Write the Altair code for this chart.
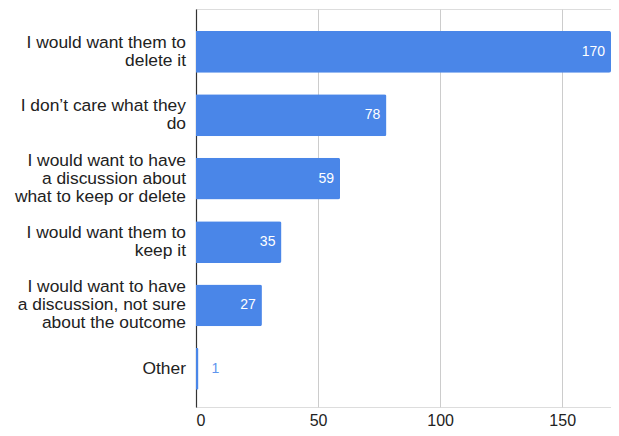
import altair as alt
import pandas as pd

categories = [
    "I would want them to\ndelete it",
    "I don\u2019t care what they\ndo",
    "I would want to have\na discussion about\nwhat to keep or delete",
    "I would want them to\nkeep it",
    "I would want to have\na discussion, not sure\nabout the outcome",
    "Other",
]
values = [170, 78, 59, 35, 27, 1]

df = pd.DataFrame({"category": categories, "value": values})

BLUE = "#4a86e8"
FONT = "Liberation Sans"
LINE_H = 18

y_scale = alt.Scale(paddingInner=0.34, paddingOuter=0.309, align=0.56)

y_enc = alt.Y(
    "category:N",
    sort=categories,
    title=None,
    scale=y_scale,
    axis=alt.Axis(
        labels=False,
        ticks=False,
        domain=True,
        domainColor="#333333",
        domainWidth=1.2,
        grid=False,
    ),
)
x_enc = alt.X(
    "value:Q",
    title=None,
    scale=alt.Scale(domain=[0, 170], nice=False),
    axis=alt.Axis(
        values=[0, 50, 100, 150],
        labelFontSize=16,
        labelFont=FONT,
        labelColor="#222222",
        labelPadding=5,
        ticks=False,
        domain=False,
        grid=True,
        gridColor="#cccccc",
        gridWidth=1,
    ),
)

base = alt.Chart(df)
bars = base.mark_bar(color=BLUE, cornerRadiusEnd=2).encode(x=x_enc, y=y_enc)

inside = base.transform_filter("datum.value >= 10").mark_text(
    align="right", baseline="middle", dx=-6, color="white", fontSize=14, font=FONT
).encode(x="value:Q", y=alt.Y("category:N", sort=categories), text="value:Q")

outside = base.transform_filter("datum.value < 10").mark_text(
    align="left", baseline="middle", dx=13, color="#5f95ee", fontSize=14, font=FONT
).encode(x="value:Q", y=alt.Y("category:N", sort=categories), text="value:Q")

label_layers = []
for n in (1, 2, 3):
    label_layers.append(
        base.transform_calculate(nl="length(split(datum.category, '\\n'))")
        .transform_filter(f"datum.nl == {n}")
        .mark_text(
            align="right",
            baseline="middle",
            lineBreak="\n",
            lineHeight=LINE_H,
            fontSize=17.4,
            font=FONT,
            color="#222222",
            dy=-(n - 1) * LINE_H / 2,
        )
        .encode(
            x=alt.value(-10),
            y=alt.Y("category:N", sort=categories),
            text="category:N",
        )
    )

chart = (
    alt.layer(bars, inside, outside, *label_layers)
    .properties(
        width=415,
        height=398,
        autosize=alt.AutoSizeParams(type="none"),
        padding={"left": 188, "top": 1, "right": 0, "bottom": 21},
    )
    .configure_view(stroke=None)
    .configure(background="white")
)

chart.save("out.html", embed_options={"renderer": "svg", "actions": False})
